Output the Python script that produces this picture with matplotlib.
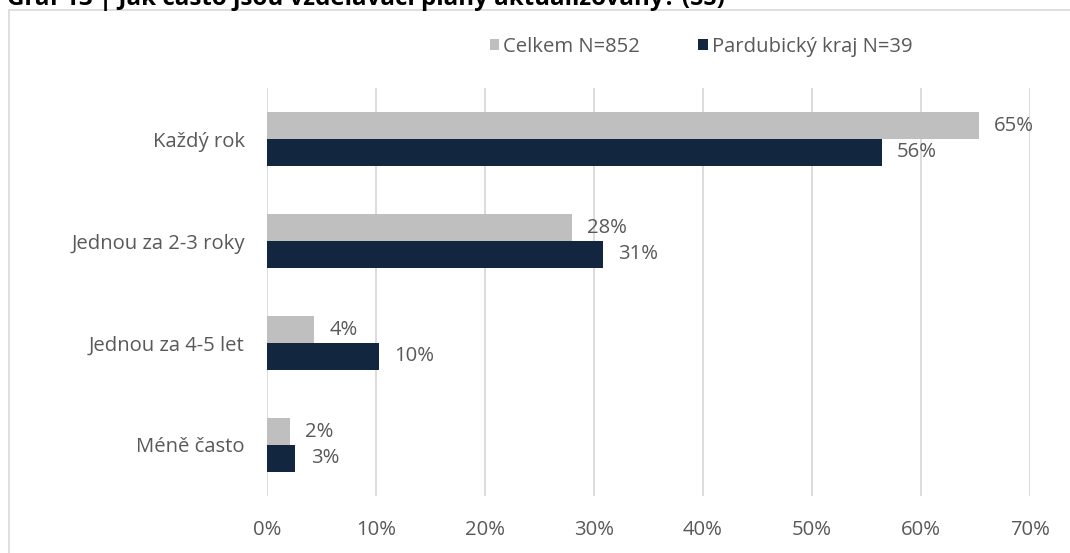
import numpy as np
import matplotlib.pyplot as plt
from matplotlib.patches import Rectangle

plt.rcParams['font.family'] = ['Open Sans', 'DejaVu Sans']

# Odpovědi v procentech
kategorie = ["Každý rok", "Jednou za 2-3 roky", "Jednou za 4-5 let", "Méně často"]
celkem = [65.3, 28.0, 4.3, 2.1]
pardubicky = [56.4, 30.8, 10.3, 2.6]
serie = ["Celkem N=852", "Pardubický kraj N=39"]
barvy = ["#bfbfbf", "#12263f"]
text_barva = "#595959"
fs = 14.6

fig = plt.figure(figsize=(10.7, 5.53), dpi=100)
ax = fig.add_axes([267 / 1070, 1 - 496 / 553, 763 / 1070, 408 / 553])

# rámeček grafu
fig.patches.append(Rectangle((9 / 1070, -0.1), 1.2, 1.1 - 10 / 553,
                             transform=fig.transFigure, fill=False,
                             edgecolor="#d9d9d9", lw=1.2))

fig.text(7 / 1070, 1 - 5 / 553,
         "Graf 13 | Jak často jsou vzdělávací plány aktualizovány? (SŠ)",
         fontsize=17.4, fontweight="bold", color="black", va="baseline")

y = np.arange(len(kategorie))
h = 0.26
b1 = ax.barh(y - h / 2, celkem, height=h, color=barvy[0], label=serie[0])
b2 = ax.barh(y + h / 2, pardubicky, height=h, color=barvy[1], label=serie[1])

for b in (b1, b2):
    ax.bar_label(b, labels=[f"{round(v):.0f}%" for v in b.datavalues],
                 padding=11, fontsize=fs, color=text_barva)

ax.set_xlim(0, 70)
ax.set_ylim(3.5, -0.5)
ax.set_xticks(range(0, 71, 10))
ax.set_xticklabels([f"{v}%" for v in range(0, 71, 10)])
ax.set_yticks(y)
ax.set_yticklabels(kategorie)
ax.tick_params(axis="both", length=0, labelsize=fs, labelcolor=text_barva)
ax.tick_params(axis="x", pad=17)
ax.tick_params(axis="y", pad=16)
ax.grid(axis="x", color="#d9d9d9", lw=1.3)
ax.set_axisbelow(True)
for s in ax.spines.values():
    s.set_visible(False)

fig.legend(loc="center", bbox_to_anchor=(0.655, 1 - 47 / 553), ncol=2,
           frameon=False, fontsize=fs, labelcolor=text_barva,
           handlelength=0.45, handleheight=0.45, handletextpad=0.2,
           columnspacing=2.9)

plt.savefig("out.png")
plt.close()
